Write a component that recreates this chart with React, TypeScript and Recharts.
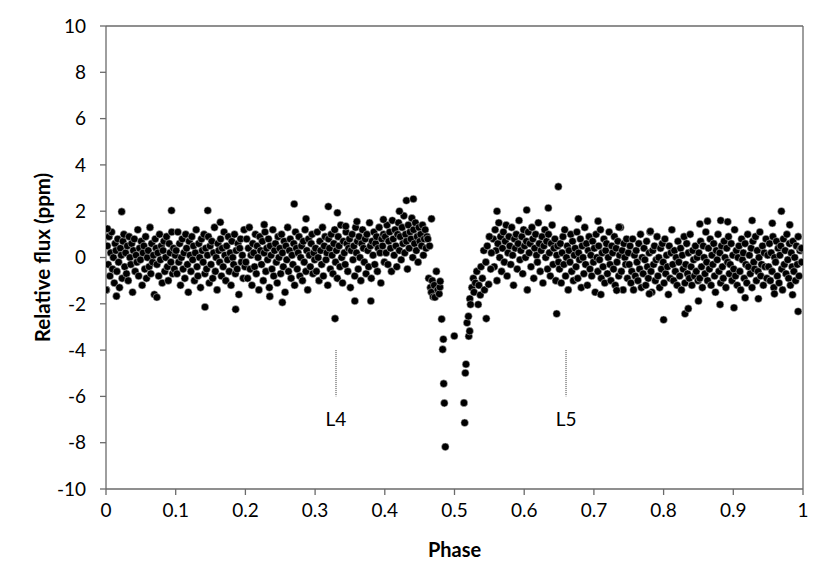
import React from 'react';
import {
  ScatterChart, Scatter, XAxis, YAxis, ReferenceLine, ReferenceDot, Label,
} from 'recharts';

// Phase-folded light curve.
// Bulk segments: flux values evenly spread over [start, end) phase.
const seg00_10 = [
  -1.4, 0.5, -0.3, 0.9, -0.8, 0.2, 1.1, -0.5, 0.0, -1.1, 0.6, 0.3, -0.6, 0.8, -0.2, -1.3, 0.4, 0.1, -0.9, 0.7,
  1.0, -0.4, 0.2, -0.7, 0.5, -1.0, 0.9, 0.0, -0.3, 0.6, -1.5, 0.3, 0.8, -0.6, 0.1, -0.2, 1.2, -0.8, 0.4, -0.1,
  0.7, -1.2, 0.2, 0.5, -0.5, 0.9, -0.9, 0.0, 0.3, -0.4, 1.3, -0.7, 0.6, -0.2, 0.1, -1.6, 0.8, 0.4, -0.3, 0.2,
  -0.8, 1.0, -0.1, 0.5, -1.1, 0.3, 0.7, -0.6, 0.0, 0.9, -0.4, -1.0, 0.6, 0.2, -0.2, 1.1, -0.7, 0.4, -0.5, 0.1,
];
const seg10_20 = [
  0.3, -0.7, 1.1, -0.2, 0.6, -1.2, 0.0, 0.8, -0.5, 0.2, -0.9, 1.0, 0.4, -0.3, -1.5, 0.7, 0.1, -0.6, 0.9, -0.1,
  0.5, -1.0, 0.2, 1.2, -0.4, -0.8, 0.6, 0.0, -1.3, 0.8, 0.3, -0.2, 1.0, -0.7, 0.4, -0.5, 0.1, 0.9, -1.1, 0.5,
  -0.3, 0.7, -0.9, 0.2, 1.3, -0.6, 0.0, -1.4, 0.6, 0.3, -0.2, 0.8, -0.8, 0.4, -0.4, 1.1, 0.1, -1.0, 0.5, -0.1,
  0.9, -0.6, 0.2, -1.2, 0.7, 0.0, -0.3, 1.0, -0.7, 0.3, -0.5, 0.6, -1.6, 0.4, 0.8, -0.2, 0.1, -0.9, 1.2, -0.4,
];
const seg20_30 = [
  -0.2, 0.8, -0.9, 0.4, 1.3, -0.5, 0.1, -1.2, 0.6, 0.2, -0.4, 1.0, -0.7, 0.5, 0.0, -1.4, 0.9, 0.3, -0.3, 0.7,
  -1.0, 0.2, 1.1, -0.6, 0.4, -0.1, 0.8, -1.3, 0.5, 0.1, -0.5, 1.2, -0.8, 0.3, 0.6, -0.2, -1.1, 0.9, 0.0, 0.4,
  -0.7, 1.0, 0.2, -0.4, 0.7, -1.5, 0.5, -0.1, 1.3, -0.6, 0.3, 0.8, -0.9, 0.1, -0.3, 0.6, -1.2, 1.1, 0.4, -0.5,
  0.2, 0.9, -0.8, 0.0, 0.5, -1.0, 0.7, -0.2, 1.2, -0.6, 0.3, -1.4, 0.8, 0.1, -0.4, 0.6, 1.0, -0.7, 0.2, -0.1,
];
const seg30_40 = [
  0.4, -0.6, 1.1, 0.0, -1.0, 0.7, 0.3, -0.3, 1.3, -0.8, 0.5, 0.9, -0.1, 0.2, -1.2, 0.8, 0.4, -0.5, 1.0, 0.1,
  -0.7, 0.6, 1.2, -0.2, 0.3, -0.9, 0.9, 0.5, -0.4, 1.4, 0.0, -1.1, 0.7, 0.2, -0.3, 1.1, 0.6, -0.6, 0.4, 0.8,
  -1.3, 0.3, 1.0, -0.1, 0.5, -0.8, 1.3, 0.2, 0.7, -0.5, 0.9, 0.0, -1.0, 0.6, 1.2, 0.4, -0.2, 0.8, -0.7, 1.0,
  0.3, -0.4, 1.5, 0.5, -0.9, 0.7, 0.1, 1.1, -0.3, 0.6, 0.9, -0.6, 0.4, 1.3, 0.2, -1.1, 0.8, 0.5, 1.0, -0.2,
];
const seg40_47 = [
  0.9, 0.2, 1.4, -0.3, 0.7, 1.1, 0.4, -0.6, 1.6, 0.8, 0.1, 1.2, 0.5, -0.4, 1.0, 1.5, 0.3, 0.9, -0.1, 1.3,
  0.6, 1.8, 0.2, 1.0, 0.7, -0.5, 1.4, 0.4, 1.1, 0.8, 1.7, 0.0, 1.2, 0.6, 1.5, 0.3, 0.9, -0.2, 1.3, 0.7,
  1.0, 0.5, 1.4, 0.1, 0.8, 1.2, 0.4, 0.9, 0.8, -0.9, 0.5, -1.3, -1.5, -1.0, -1.7,
];
const seg555_65 = [
  0.8, -0.4, 1.2, 0.3, -1.0, 0.6, 1.5, 0.0, 0.9, -0.6, 0.4, 1.1, -0.2, 0.7, 1.4, -0.8, 0.2, 0.9, 0.5, -0.3,
  1.3, 0.1, -1.2, 0.8, 0.4, 1.0, -0.5, 0.6, 1.6, -0.1, 0.3, 0.9, -0.7, 1.2, 0.5, 0.0, 0.7, -1.4, 1.1, 0.2,
  0.6, -0.4, 1.3, 0.8, -0.9, 0.4, 1.0, 0.1, -0.2, 1.5, 0.6, -0.6, 0.3, 0.9, -1.1, 0.5, 1.2, 0.0, 0.7, -0.5,
  1.0, 0.2, -0.8, 0.6, 1.4, -0.3, 0.4, 0.8, -1.0, 0.1, 0.5, -0.2,
];
const seg65_75 = [
  -0.5, 0.6, -1.1, 0.2, 0.9, -0.3, 1.2, -0.8, 0.0, 0.5, -1.4, 0.3, -0.2, 1.0, -0.6, 0.7, -1.0, 0.1, 0.4, -0.4,
  1.1, -0.9, 0.2, -0.1, 0.8, -1.3, 0.5, 0.0, -0.7, 1.3, -0.3, 0.6, -1.2, 0.3, 0.9, -0.5, 0.1, -0.8, 0.7, -0.2,
  0.4, -1.5, 1.0, 0.0, -0.6, 0.5, -0.1, 1.2, -0.9, 0.2, -0.4, 0.8, -1.1, 0.3, 0.6, -0.7, 0.0, 1.1, -0.3, -1.0,
  0.5, 0.2, -0.5, 0.9, -1.2, 0.4, -0.2, 0.7, -0.8, 0.1, 1.3, -0.6, 0.3, -1.4, 0.6, 0.0, -0.3, 0.8, -0.9, 0.2,
];
const seg75_85 = [
  -0.3, 0.5, -1.1, -0.6, 0.8, -1.4, 0.1, -0.8, 0.3, -0.2, -1.0, 0.6, -0.5, 1.0, -1.3, 0.0, -0.7, 0.4, -0.1, -1.2,
  0.7, -0.4, -0.9, 0.2, 1.1, -0.6, -1.5, 0.3, -0.3, 0.5, -1.0, -0.1, 0.9, -0.8, 0.0, -1.3, 0.4, -0.5, 0.6, -0.2,
  -1.1, 0.8, -0.7, 0.1, -0.4, -1.6, 0.5, -0.9, 0.2, 1.2, -0.3, -1.0, 0.3, -0.6, 0.0, -1.2, 0.7, -0.2, -0.8, 0.4,
  -1.4, 0.1, -0.5, 0.9, -1.1, -0.3, 0.6, -0.7, 0.2, -0.9, 1.0, -0.4, -1.2, 0.3, -0.1, -0.8, 0.5, -0.6, 0.0, -1.0,
];
const seg85_95 = [
  0.2, -0.9, 0.7, -0.4, -1.3, 0.5, 0.0, -0.7, 1.1, -0.2, -1.0, 0.4, -0.5, 0.8, -1.2, 0.1, -0.3, 0.6, -0.8, -1.5,
  0.3, -0.1, 1.0, -0.6, 0.2, -1.1, 0.5, -0.4, -0.9, 0.7, 0.0, -1.3, 0.4, -0.2, 0.9, -0.7, -0.3, 0.6, -1.0, 0.1,
  -0.5, 1.2, -0.8, 0.3, -1.2, 0.0, 0.5, -0.6, -1.4, 0.8, -0.1, 0.2, -0.9, 0.6, -0.3, -1.1, 1.0, -0.4, 0.1, -0.7,
  0.4, -1.3, 0.7, -0.2, -0.5, 0.9, -1.0, 0.3, -0.6, 0.0, 1.1, -0.8, -0.3, 0.5, -1.2, 0.2, -0.4, 0.8, -0.9, 0.1,
];
const seg95_100 = [
  -0.4, 0.6, -1.0, 0.2, -0.6, 0.9, -1.3, 0.0, -0.2, 0.7, -0.8, 0.4, -1.1, 0.1, 0.5, -0.5, -1.4, 0.8, -0.3, 0.3,
  -0.7, 1.0, -0.1, -0.9, 0.6, -1.2, 0.2, -0.4, 0.7, -0.6, 0.0, -1.0, 0.5, -0.3, 0.9, -0.8, 0.3, 0.4, -0.2, 0.4,
];

// Transit (dip) points: [phase, flux]
const transitPoints: [number, number][] = [
  [0.471, -1.2], [0.472, -1.72], [0.474, -0.6], [0.476, -1.4], [0.478, -1.57], [0.479, -1.28], [0.4795, -1.03],
  [0.4816, -2.66], [0.483, -3.97], [0.484, -3.53], [0.4845, -5.45], [0.4854, -6.29], [0.4868, -8.18],
  [0.4997, -3.39], [0.5136, -6.28], [0.5146, -7.14], [0.5155, -4.99], [0.5165, -4.61], [0.518, -2.82],
  [0.52, -2.54], [0.5205, -3.4], [0.5218, -3.18], [0.522, -1.78], [0.523, -2.03], [0.525, -1.3], [0.527, -0.9],
  [0.528, -1.5], [0.53, -1.1], [0.532, -0.6], [0.534, -2.03], [0.535, -1.2], [0.537, -1.62], [0.538, -0.4],
  [0.54, -0.9], [0.542, 0.3], [0.543, -1.4], [0.545, -0.2], [0.5456, -2.64], [0.547, 0.5], [0.549, -1.16],
  [0.55, 0.9], [0.552, -0.5], [0.553, 0.2],
];

// Outlying points: [phase, flux]
const outlierPoints: [number, number][] = [
  [0.002, 1.24], [0.0, -1.4], [0.0225, 1.98], [0.015, -1.67], [0.073, -1.72], [0.094, 2.03], [0.142, -2.14],
  [0.146, 2.03], [0.164, 1.52], [0.186, -2.24], [0.227, 1.42], [0.253, -1.94], [0.235, -1.68], [0.27, 2.31],
  [0.287, 1.67], [0.319, 2.2], [0.332, 1.93], [0.3286, -2.64], [0.344, 1.35], [0.357, -1.88], [0.36, 1.55],
  [0.38, -1.88], [0.398, 1.64], [0.421, 2.0], [0.431, 2.46], [0.441, 2.53], [0.467, 1.67], [0.561, 2.0],
  [0.6036, 2.05], [0.6346, 2.14], [0.649, 3.06], [0.6466, -2.43], [0.6777, 1.67], [0.706, 1.57], [0.71, -1.6],
  [0.7327, -1.42], [0.736, 1.31], [0.7795, -1.57], [0.781, 1.13], [0.8, -2.69], [0.8307, -2.43], [0.8354, -2.21],
  [0.85, -1.88], [0.852, 1.45], [0.863, 1.57], [0.881, -2.03], [0.882, 1.6], [0.892, 1.54], [0.901, -2.17],
  [0.917, -1.74], [0.927, 1.6], [0.936, -1.78], [0.956, 1.48], [0.959, -1.57], [0.969, 2.0], [0.981, 1.41],
  [0.985, -1.61], [0.993, -2.33], [0.998, 0.4],
];

const segments: { start: number; end: number; values: number[] }[] = [
  { start: 0.0, end: 0.1, values: seg00_10 },
  { start: 0.1, end: 0.2, values: seg10_20 },
  { start: 0.2, end: 0.3, values: seg20_30 },
  { start: 0.3, end: 0.4, values: seg30_40 },
  { start: 0.4, end: 0.47, values: seg40_47 },
  { start: 0.555, end: 0.65, values: seg555_65 },
  { start: 0.65, end: 0.75, values: seg65_75 },
  { start: 0.75, end: 0.85, values: seg75_85 },
  { start: 0.85, end: 0.95, values: seg85_95 },
  { start: 0.95, end: 1.0, values: seg95_100 },
];

const xTicks = [0, 0.1, 0.2, 0.3, 0.4, 0.5, 0.6, 0.7, 0.8, 0.9, 1];
const yTicks = [-10, -8, -6, -4, -2, 0, 2, 4, 6, 8, 10];
const markers = [
  { name: 'L4', phase: 0.33 },
  { name: 'L5', phase: 0.66 },
];

const points: { phase: number; flux: number }[] = [];
segments.forEach((s) => {
  const step = (s.end - s.start) / s.values.length;
  s.values.forEach((v, i) => points.push({ phase: s.start + (i + 0.5) * step, flux: v }));
});
transitPoints.forEach(([p, f]) => points.push({ phase: p, flux: f }));
outlierPoints.forEach(([p, f]) => points.push({ phase: p, flux: f }));

const FONT = 'Lato, "Noto Sans", sans-serif';
const AXIS = '#6a6a6a';

const Dot = (props: any) => (
  <circle cx={props.cx} cy={props.cy} r={3.8} fill="#000" stroke="#cfcfcf" strokeWidth={0.5} />
);

export default function App() {
  return (
    <div style={{ width: 822, height: 578, fontFamily: FONT }}>
      <ScatterChart width={822} height={578} margin={{ top: 18, right: 27, bottom: 27, left: 0 }}>
        <XAxis
          type="number"
          dataKey="phase"
          domain={[0, 1]}
          ticks={xTicks}
          tickFormatter={(v: number) => String(v)}
          allowDataOverflow
          height={70}
          tickSize={6}
          tickMargin={9}
          axisLine={{ stroke: AXIS, strokeWidth: 1.3 }}
          tickLine={{ stroke: AXIS, strokeWidth: 1.3 }}
          tick={{ fontSize: 19, fill: '#000', fontFamily: FONT }}
        >
          <Label
            value="Phase"
            position="insideBottom"
            offset={2}
            style={{ fontSize: 20, fontWeight: 700, fill: '#000', fontFamily: FONT }}
          />
        </XAxis>
        <YAxis
          type="number"
          dataKey="flux"
          domain={[-10, 10]}
          ticks={yTicks}
          allowDataOverflow
          width={98}
          tickSize={6}
          tickMargin={14}
          axisLine={{ stroke: AXIS, strokeWidth: 1.3 }}
          tickLine={{ stroke: AXIS, strokeWidth: 1.3 }}
          tick={{ fontSize: 19, fill: '#000', fontFamily: FONT }}
        >
          <Label
            value="Relative flux (ppm)"
            angle={-90}
            position="insideLeft"
            offset={35}
            style={{ textAnchor: 'middle', fontSize: 20.5, fontWeight: 700, fill: '#000', fontFamily: FONT }}
          />
        </YAxis>
        <ReferenceLine y={10} stroke={AXIS} strokeWidth={1.3} />
        <ReferenceLine x={1} stroke={AXIS} strokeWidth={1.3} />
        {markers.map((m) => (
          <ReferenceLine
            key={m.name + 'line'}
            segment={[{ x: m.phase, y: -4 }, { x: m.phase, y: -6 }]}
            stroke="#333"
            strokeWidth={1}
            strokeDasharray="1 1"
          />
        ))}
        {markers.map((m) => (
          <ReferenceDot
            key={m.name}
            x={m.phase}
            y={-7}
            r={1}
            fill="none"
            stroke="none"
            label={{ value: m.name, position: 'center', fontSize: 19, fill: '#000', fontFamily: FONT }}
          />
        ))}
        <Scatter data={points} shape={Dot} isAnimationActive={false} />
      </ScatterChart>
    </div>
  );
}
